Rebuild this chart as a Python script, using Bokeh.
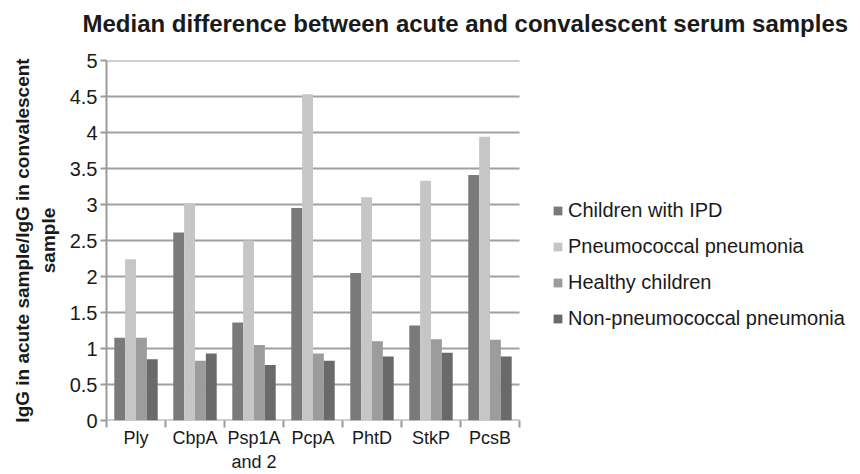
from bokeh.plotting import figure
from bokeh.layouts import column
from bokeh.models import (ColumnDataSource, FixedTicker, NumeralTickFormatter, Legend, LegendItem,
                          Range1d)
from bokeh.embed import file_html
from bokeh.resources import INLINE

title_text = "Median difference between acute and convalescent serum samples"
y_label = "IgG in acute sample/IgG in convalescent\nsample"
categories = ["Ply", "CbpA", "Psp1A\nand 2", "PcpA", "PhtD", "StkP", "PcsB"]
series = ["Children with IPD", "Pneumococcal pneumonia", "Healthy children", "Non-pneumococcal pneumonia"]
ipd = [1.15, 2.61, 1.36, 2.95, 2.05, 1.32, 3.41]
pneumo = [2.24, 3.01, 2.50, 4.53, 3.10, 3.33, 3.94]
healthy = [1.15, 0.83, 1.05, 0.93, 1.10, 1.13, 1.12]
nonpneumo = [0.85, 0.93, 0.77, 0.83, 0.89, 0.94, 0.89]
colors = ["#7a7a7a", "#c6c6c6", "#9c9c9c", "#6a6a6a"]
y_ticks = [0, 0.5, 1, 1.5, 2, 2.5, 3, 3.5, 4, 4.5, 5]

n = len(categories)
centers = [i + 0.5 for i in range(n)]
boundaries = list(range(n + 1))

# ---- title strip ----
t = figure(width=860, height=48, output_backend="svg", toolbar_location=None,
           x_range=Range1d(0, 1), y_range=Range1d(0, 1),
           x_axis_type=None, y_axis_type=None, min_border=0)
t.outline_line_color = None
t.title.text = title_text
t.title.text_font = "Liberation Sans"
t.title.text_font_size = "24px"
t.title.text_font_style = "bold"
t.title.text_color = "#1a1a1a"
t.title.align = "left"
t.title.vertical_align = "bottom"
t.title.offset = -24
t.title.standoff = 15

# ---- main chart ----
# frame spans to the right edge; the bar area takes the left 413 of its 754 px
x_end = n * 754 / 413

p = figure(width=860, height=426, output_backend="svg", toolbar_location=None,
           x_range=Range1d(0, x_end), y_range=Range1d(0, 5),
           min_border_left=106, min_border_right=0, min_border_top=12, min_border_bottom=51)
p.outline_line_color = None
p.background_fill_color = "white"

# horizontal grid lines limited to the category area
grid_src = ColumnDataSource(dict(x0=[0] * len(y_ticks), x1=[n] * len(y_ticks), y=y_ticks))
p.segment(x0="x0", x1="x1", y0="y", y1="y", source=grid_src, line_color="#a0a0a0", line_width=2)

bw = 0.184
values = [ipd, pneumo, healthy, nonpneumo]
items = []
for k, (vals, name, col) in enumerate(zip(values, series, colors)):
    xs = [c + (k - 1.5) * bw for c in centers]
    src = ColumnDataSource(dict(x=xs, top=vals))
    r = p.vbar(x="x", top="top", bottom=0, width=bw, source=src, fill_color=col, line_color=None)
    items.append(LegendItem(label=name, renderers=[r]))

# y axis
ya = p.yaxis[0]
ya.ticker = FixedTicker(ticks=y_ticks)
ya.formatter = NumeralTickFormatter(format="0.[0]")
ya.axis_label = y_label
ya.axis_label_text_font = "Liberation Sans"
ya.axis_label_text_font_size = "19px"
ya.axis_label_text_font_style = "bold"
ya.axis_label_text_color = "#1a1a1a"
ya.axis_label_standoff = 8
ya.major_label_text_font = "Liberation Sans"
ya.major_label_text_font_size = "20px"
ya.major_label_text_color = "#1a1a1a"
ya.major_label_standoff = 3
ya.major_tick_out = 6
ya.major_tick_in = 0
ya.minor_tick_out = 0
ya.minor_tick_in = 0
ya.axis_line_color = "#9a9a9a"
ya.axis_line_width = 2
ya.major_tick_line_color = "#9a9a9a"
ya.major_tick_line_width = 2

# x axis
xa = p.xaxis[0]
xa.ticker = FixedTicker(ticks=centers, minor_ticks=boundaries)
xa.major_label_overrides = {c: lab for c, lab in zip(centers, categories)}
xa.major_label_text_font = "Liberation Sans"
xa.major_label_text_font_size = "18px"
xa.major_label_text_color = "#1a1a1a"
xa.major_label_standoff = 0
xa.major_tick_out = 0
xa.major_tick_in = 0
xa.minor_tick_out = 7
xa.minor_tick_in = 0
xa.minor_tick_line_color = "#9a9a9a"
xa.minor_tick_line_width = 2
xa.axis_line_color = None

p.xgrid.grid_line_color = None
p.ygrid.grid_line_color = None

legend = Legend(items=items, location=(446, 90), margin=0, padding=0,
                border_line_color=None, background_fill_alpha=0,
                glyph_width=11, glyph_height=11, label_height=24, spacing=12,
                label_standoff=5,
                label_text_font="Liberation Sans", label_text_font_size="20px",
                label_text_color="#1a1a1a")
p.add_layout(legend, "center")

layout = column(t, p, spacing=0)
open("out.html", "w").write(file_html(layout, INLINE))
